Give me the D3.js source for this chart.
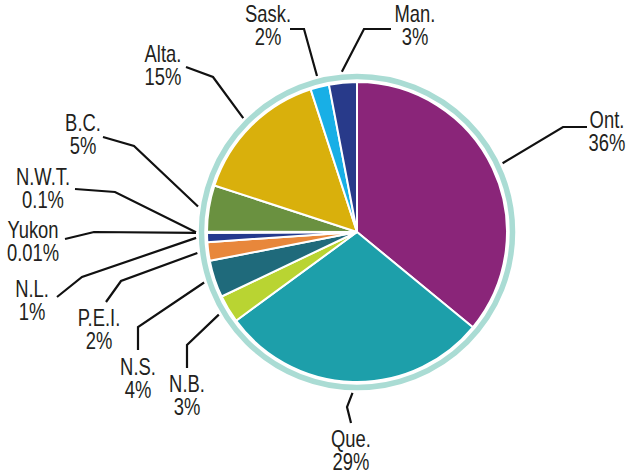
<!DOCTYPE html>
<html>
<head>
<meta charset="utf-8">
<script src="https://cdn.jsdelivr.net/npm/d3@7"></script>
<style>
  html, body { margin: 0; padding: 0; background: #fff; }
  svg text { font-family: "Liberation Sans", Arial, sans-serif; font-size: 23px; fill: #231f20; }
</style>
</head>
<body>
<svg id="chart" width="627" height="476"></svg>
<script>
// Share by province / territory, clockwise from 12 o'clock
const regions = ["Ont.", "Que.", "N.B.", "N.S.", "P.E.I.", "N.L.", "Yukon", "N.W.T.", "B.C.", "Alta.", "Sask.", "Man."];
const shares  = [36, 29, 3, 4, 2, 1, 0.01, 0.1, 5, 15, 2, 3];
const shareLabels = ["36%", "29%", "3%", "4%", "2%", "1%", "0.01%", "0.1%", "5%", "15%", "2%", "3%"];
const colors = ["#8a2579", "#1d9faa", "#b9d432", "#1f6a7b", "#e8873b", "#243a8e", "#4d80cf", "#86ace4",
                "#6a9140", "#d9b00c", "#18afe6", "#283a8a"];

// Leader elbows and label anchors (x, y of first baseline)
const elbows = [[[563,127],[587,127]], [[347,407],[351,423]], [[187,345],[187,368]], [[138,327],[138,350]],
                [[121,281],[106,302]], [[82,277],[57,297]], [[94,232],[65,239]], [[115,192],[75,189]],
                [[134,146],[103,137]], [[213,77],[186,67]], [[304,29],[290,29]], [[364,29],[391,29]]];
const labelPos = [[607,128], [351,447], [187,392], [138,375], [99,326], [32,297], [33,238], [43,185],
                  [83,131], [163,62], [268,22], [415,22]];

const svg = d3.select("#chart");
const cx = 357, cy = 232;
const rPie = 150, rRing = 155.5, rLead = 161;
const narrow = 0.8; // horizontal squeeze for a condensed face

const g = svg.append("g").attr("transform", `translate(${cx},${cy})`);

const pie = d3.pie().sort(null).value(d => d.v);
const data = regions.map((r, i) => ({ name: r, v: shares[i], label: shareLabels[i], color: colors[i], i }));
const arcs = pie(data);

const arc = d3.arc().innerRadius(0).outerRadius(rPie);
const leadArc = d3.arc().innerRadius(rLead).outerRadius(rLead);

// outer ring
g.append("circle").attr("r", rRing).attr("fill", "none")
  .attr("stroke", "#aadcd4").attr("stroke-width", 5.5);

// slices
g.selectAll("path.slice").data(arcs).join("path")
  .attr("class", "slice")
  .attr("d", arc)
  .attr("fill", d => d.data.color)
  .attr("stroke", "#fff")
  .attr("stroke-width", 2)
  .attr("stroke-linejoin", "round");

// leader lines
const line = d3.line();
svg.selectAll("path.leader").data(arcs).join("path")
  .attr("class", "leader")
  .attr("d", d => {
    const [x, y] = leadArc.centroid(d);
    return line([[cx + x, cy + y], ...elbows[d.data.i]]);
  })
  .attr("fill", "none")
  .attr("stroke", "#111")
  .attr("stroke-width", 2.2);

// labels
const lab = svg.selectAll("text.lab").data(arcs).join("text")
  .attr("class", "lab")
  .attr("text-anchor", "middle")
  .attr("transform", d => `translate(${labelPos[d.data.i][0]},${labelPos[d.data.i][1]}) scale(${narrow},1)`);
lab.append("tspan").attr("x", 0).text(d => d.data.name);
lab.append("tspan")
  .attr("x", 0)
  .attr("dy", 23)
  .text(d => d.data.label);
</script>
</body>
</html>
